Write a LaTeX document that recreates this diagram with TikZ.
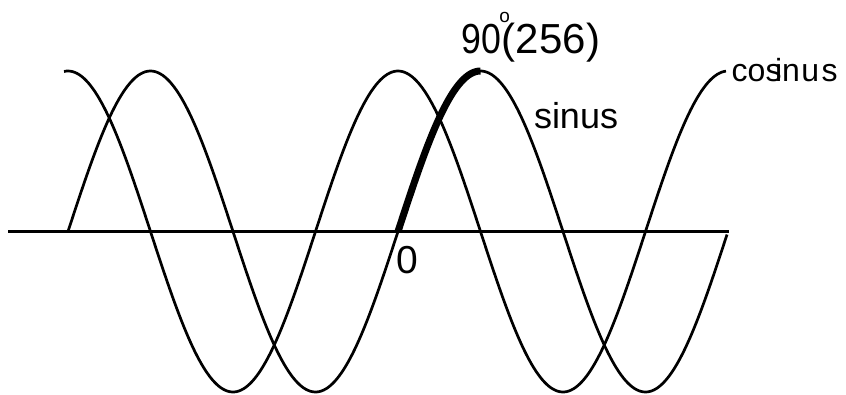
\documentclass[tikz,border=0pt]{standalone}
\usepackage{fontspec}
\setmainfont{Liberation Sans}
\begin{document}
\begin{tikzpicture}[x=1pt,y=-1pt,
  curve/.style={line width=2.7pt, line join=round},
  thickseg/.style={line width=7pt},
  axisline/.style={line width=2.8pt},
  lab/.style={inner sep=0pt, outer sep=0pt, anchor=base west}]
\useasboundingbox (0,0) rectangle (846,394);
% axis
\coordinate (axL) at (8,231.5);
\coordinate (axR) at (729,231.5);
\draw[axisline] (axL) -- (axR);
% sine
\draw[curve] plot[domain=68:727, samples=300] (\x,{231.5-160.5*sin((\x-398)/330*360)});
% cosine
\draw[curve] plot[domain=64:726, samples=300] (\x,{231.5-160.5*cos((\x-398)/330*360)});
% thick quarter of the sine
\draw[thickseg] plot[domain=398:480.5, samples=60] (\x,{231.5-160.5*sin((\x-398)/330*360)});
% labels
\node[lab] (ninety) at (461.5,53) {\fontsize{42}{42}\selectfont\scalebox{0.85}[1]{90}\kern-1.9pt\raisebox{31pt}{\fontsize{19}{19}\selectfont o}\kern-7.9pt(256)};
\node[lab] (sinus) at (534,128) {\fontsize{36}{36}\selectfont sinus};
\node[lab] (cosinus) at (731.7,81) {\fontsize{32}{32}\selectfont cos\kern-6.5pt i\kern0pt n\kern1.5pt u\kern2.5pt s};
\node[lab] (zero) at (396.4,273) {\fontsize{39}{39}\selectfont 0};
\end{tikzpicture}
\end{document}
